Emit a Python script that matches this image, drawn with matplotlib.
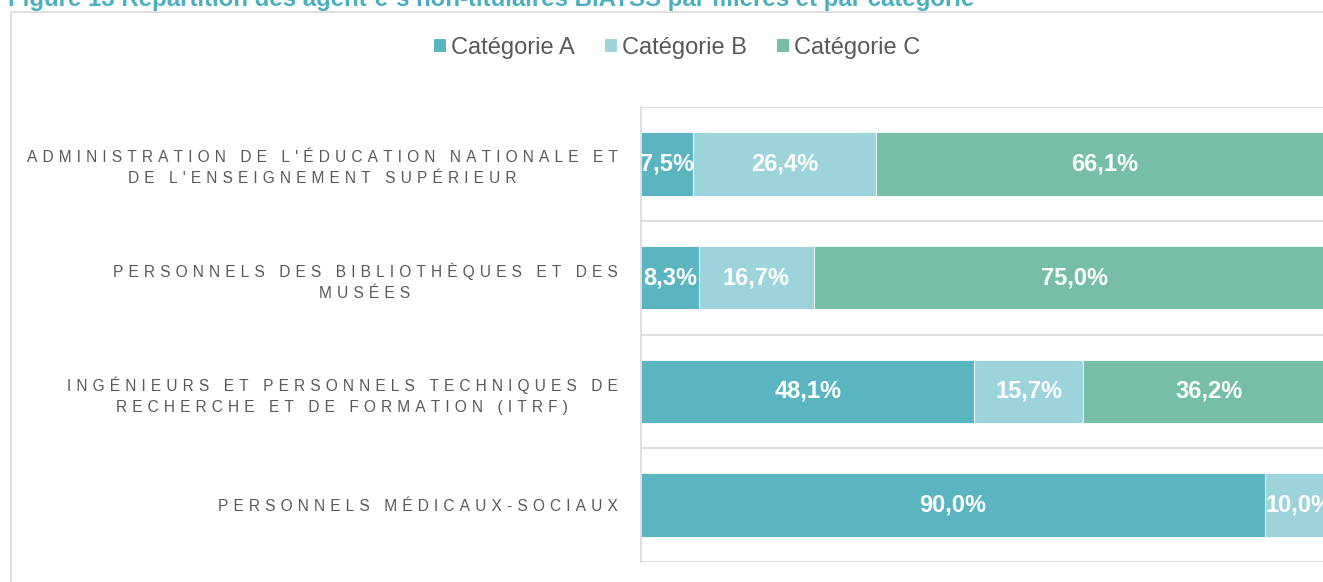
import matplotlib.pyplot as plt
from matplotlib.patches import Patch, Rectangle

# data (percent of each filière)
filieres = [
    "ADMINISTRATION DE L'ÉDUCATION NATIONALE ET\nDE L'ENSEIGNEMENT SUPÉRIEUR",
    "PERSONNELS DES BIBLIOTHÈQUES ET DES\nMUSÉES",
    "INGÉNIEURS ET PERSONNELS TECHNIQUES DE\nRECHERCHE ET DE FORMATION (ITRF)",
    "PERSONNELS MÉDICAUX-SOCIAUX",
]
cat_a = [7.5, 8.3, 48.1, 90.0]
cat_b = [26.4, 16.7, 15.7, 10.0]
cat_c = [66.1, 75.0, 36.2, 0.0]
series_names = ["Catégorie A", "Catégorie B", "Catégorie C"]
colors = ["#5BB5C1", "#9DD4DC", "#76BEA7"]

title = "Figure 13 Répartition des agent·e·s non-titulaires BIATSS par filières et par catégorie"

W, H = 1323, 582
fig = plt.figure(figsize=(W / 100, H / 100), dpi=100)
fam = ["Liberation Sans", "DejaVu Sans"]
grey_txt = "#595959"
grid = "#D9D9D9"


def spaced(s):
    # fake letter spacing, the labels are expanded in the original
    return "\n".join("\u2004".join(line) for line in s.split("\n"))


# outer chart frame (runs off the right and bottom edges)
fig.patches.append(Rectangle((11 / W, -0.05), 1.2, 1 - 12 / H + 0.05,
                             transform=fig.transFigure, fill=False,
                             edgecolor=grid, linewidth=1.2))

# title is cut by the top edge in the original
fig.text(8 / W, 1 - 6 / H, title, ha="left", va="baseline", fontsize=17.3,
         fontweight="bold", color="#4BAFC0", family=fam)

# plot area: 100% sits beyond the right edge of the picture
x0, x100 = 641, 1334
y_top, y_bot = 107, 562
ax = fig.add_axes([x0 / W, 1 - y_bot / H, (x100 - x0) / W, (y_bot - y_top) / H])

pos = list(range(len(filieres)))
left = [0.0] * len(filieres)
for vals, name, col in zip([cat_a, cat_b, cat_c], series_names, colors):
    ax.barh(pos, vals, left=left, height=0.56, color=col,
            edgecolor="white", linewidth=0.6, label=name)
    for i, v in enumerate(vals):
        if v > 0:
            ax.text(left[i] + v / 2, i, f"{v:.1f}%".replace(".", ","),
                    ha="center", va="center", color="white", fontsize=17,
                    fontweight="bold", family=fam)
    left = [l + v for l, v in zip(left, vals)]

ax.set_xlim(0, 100)
ax.set_ylim(len(filieres) - 0.5, -0.5)
ax.set_xticks([])
ax.set_yticks(pos)
ax.set_yticklabels([spaced(f) for f in filieres], fontsize=11.2,
                   color=grey_txt, family=fam)
for lbl in ax.get_yticklabels():
    lbl.set_multialignment("center")
    lbl.set_linespacing(1.45)
ax.tick_params(axis="y", length=0, pad=17)

for y in [p - 0.5 for p in pos] + [len(filieres) - 0.5]:
    ax.axhline(y, color=grid, linewidth=1.2, zorder=0)
for side in ["top", "right", "bottom"]:
    ax.spines[side].set_visible(False)
ax.spines["left"].set_color(grid)
ax.spines["left"].set_linewidth(1.2)

handles = [Patch(facecolor=c, edgecolor="none") for c in colors]
fig.legend(handles, series_names, loc="center", bbox_to_anchor=(677 / W, 1 - 48 / H),
           ncol=3, frameon=False, handlelength=0.5, handleheight=0.5,
           handletextpad=0.2, columnspacing=1.3,
           prop={"family": fam, "size": 17}, labelcolor=grey_txt)

fig.savefig("out.png", dpi=100)
